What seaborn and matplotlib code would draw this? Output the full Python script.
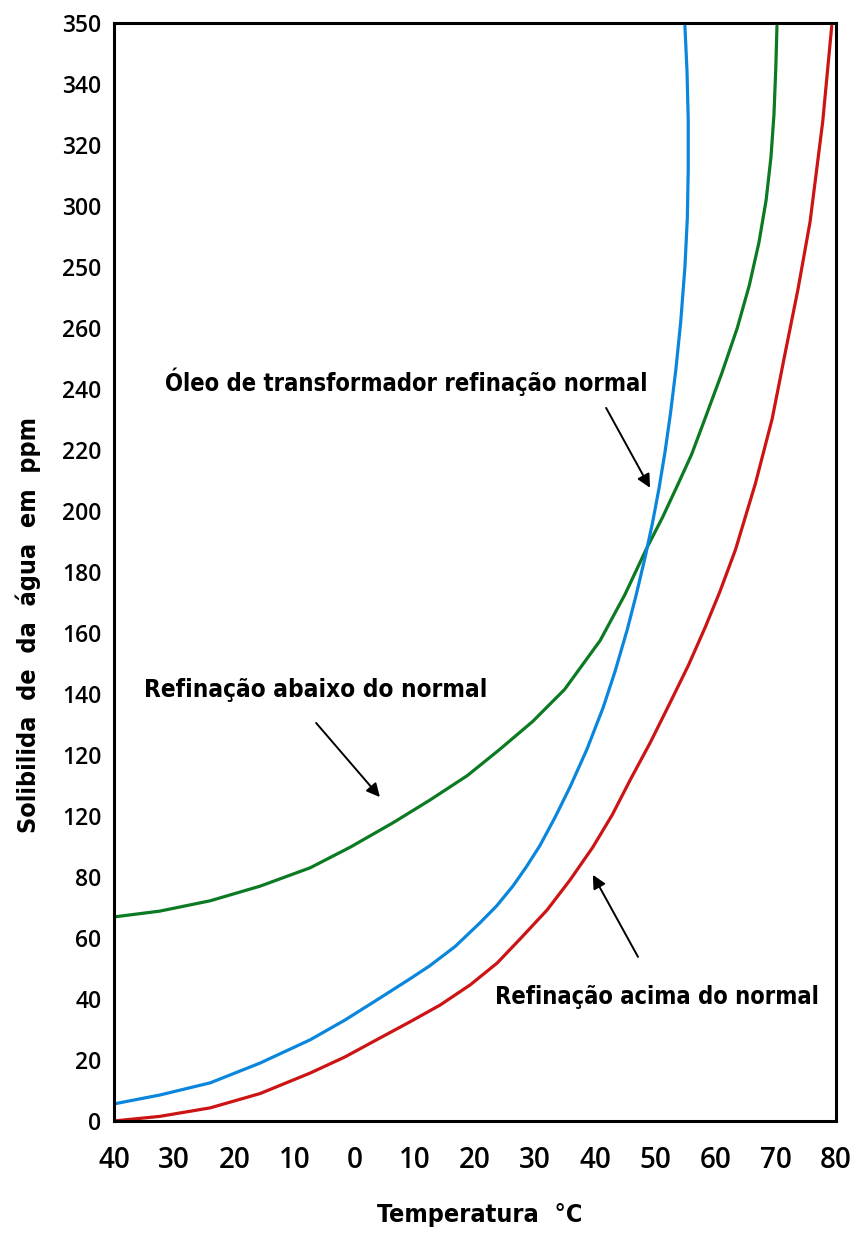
import matplotlib
matplotlib.use("Agg")
import matplotlib.pyplot as plt
import seaborn as sns
import pandas as pd

# curves (temperature, solubility in ppm)
green_temp = [-40.0, -32.4, -24.0, -15.7, -7.4, -0.7, 6.4, 12.5, 18.7, 24.1, 29.6, 34.9,
              40.8, 44.9, 48.6, 51.2, 53.8, 56.0, 57.9, 61.0, 63.6, 65.6, 67.2, 68.4,
              69.2, 69.7, 70.0, 70.2]
green_ppm = [66.9, 68.8, 72.2, 77.0, 83.0, 89.8, 97.8, 105.2, 113.2, 121.8, 131.0, 141.5,
             157.5, 172.5, 188.0, 198.0, 209.0, 218.5, 228.5, 245.0, 260.0, 274.0, 288.0, 302.0,
             316.0, 330.0, 345.0, 359.0]

blue_temp = [-40.0, -32.4, -24.0, -15.7, -7.4, -1.6, 4.2, 9.2, 12.5, 16.7, 20.8, 23.6,
             26.3, 28.6, 30.8, 33.3, 35.8, 38.6, 41.3, 43.3, 45.3, 46.8, 48.3, 49.5,
             50.6, 51.6, 52.5, 53.4, 54.2, 54.9, 55.3, 55.45, 55.45, 55.25, 54.9]
blue_ppm = [5.6, 8.5, 12.5, 19.0, 26.6, 33.1, 40.3, 46.6, 50.9, 57.2, 64.9, 70.5,
            77.0, 83.5, 90.3, 99.5, 109.5, 121.8, 135.5, 147.5, 161.0, 172.5, 185.0, 196.0,
            207.5, 219.5, 232.0, 246.5, 262.0, 280.0, 296.0, 312.0, 328.0, 344.0, 359.0]

red_temp = [-40.0, -32.4, -24.0, -15.7, -7.4, -1.6, 4.2, 9.2, 14.2, 19.2, 23.7, 27.8,
            32.0, 35.8, 39.6, 42.8, 45.8, 49.2, 52.4, 55.5, 58.3, 60.7, 63.3, 66.6,
            69.4, 71.5, 73.7, 75.7, 77.8, 79.3]
red_ppm = [0.0, 1.5, 4.3, 9.0, 15.7, 21.0, 27.2, 32.5, 38.0, 44.6, 51.8, 60.3,
           69.2, 79.0, 89.8, 100.3, 111.8, 124.3, 137.0, 149.5, 162.0, 173.5, 187.3, 208.9,
           230.2, 251.2, 272.8, 294.8, 327.6, 359.0]

x_ticks = [-40, -30, -20, -10, 0, 10, 20, 30, 40, 50, 60, 70, 80]
x_labels = ["40", "30", "20", "10", "0", "10", "20", "30", "40", "50", "60", "70", "80"]
y_ticks = list(range(0, 361, 20))
y_labels = ["0", "20", "40", "60", "80", "120", "120", "140", "160", "180", "200",
            "220", "240", "260", "250", "300", "320", "340", "350"]

sns.set_style("white")
narrow = ["DejaVu Sans"]
plt.rcParams["font.family"] = ["Open Sans", "DejaVu Sans"]
plt.rcParams["text.color"] = "black"

fig = plt.figure(figsize=(8.55, 12.44), dpi=100)
ax = fig.add_axes([0.1333, 0.0989, 0.8444, 0.8826])

curves = [
    (green_temp, green_ppm, "#0b7a22"),
    (blue_temp, blue_ppm, "#0a86dc"),
    (red_temp, red_ppm, "#cc1414"),
]
for t, p, c in curves:
    d = pd.DataFrame({"t": t, "p": p})
    sns.lineplot(data=d, x="t", y="p", sort=False, estimator=None, color=c, lw=2.3, ax=ax)

ax.set_xlim(-40, 80)
ax.set_ylim(0, 360)
ax.set_xticks(x_ticks)
ax.set_xticklabels(x_labels, fontsize=20, fontweight="semibold", color="black")
ax.set_yticks(y_ticks)
ax.set_yticklabels(y_labels, fontsize=16.5, fontweight="semibold", color="black")
ax.tick_params(axis="x", length=0, pad=18)
ax.tick_params(axis="y", length=0, pad=9)
ax.set_xlabel("")
ax.set_ylabel("")
for s in ax.spines.values():
    s.set_color("black")
    s.set_linewidth(2.2)

# annotations
txt = dict(family=narrow, fontstretch="condensed", fontweight="bold",
           va="center", ha="left", color="black")
ax.text(-31.5, 242.3, "Óleo de transformador refinação normal", fontsize=17, **txt)
ax.text(-35.0, 141.3, "Refinação abaixo do normal", fontsize=17.5, **txt)
ax.text(23.3, 40.7, "Refinação acima do normal", fontsize=17, **txt)

arr = dict(arrowstyle="-|>", color="black", lw=1.4, mutation_scale=20, shrinkA=0, shrinkB=0)
ax.annotate("", xy=(49.1, 207.6), xytext=(41.8, 233.8), arrowprops=arr)
ax.annotate("", xy=(4.2, 106.2), xytext=(-6.4, 130.5), arrowprops=arr)
ax.annotate("", xy=(39.6, 80.7), xytext=(47.1, 53.8), arrowprops=arr)

fig.text(480 / 855, 1 - 1215 / 1244, "Temperatura  °C", family=narrow, fontstretch="condensed",
         fontweight="bold", fontsize=18, ha="center", va="center", color="black")
fig.text(28 / 855, 1 - 625 / 1244, "Solibilida  de  da  água  em  ppm", family=narrow,
         fontstretch="condensed", fontweight="bold", fontsize=18, ha="center", va="center",
         rotation=90, color="black")

fig.savefig("out.png", dpi=100)
